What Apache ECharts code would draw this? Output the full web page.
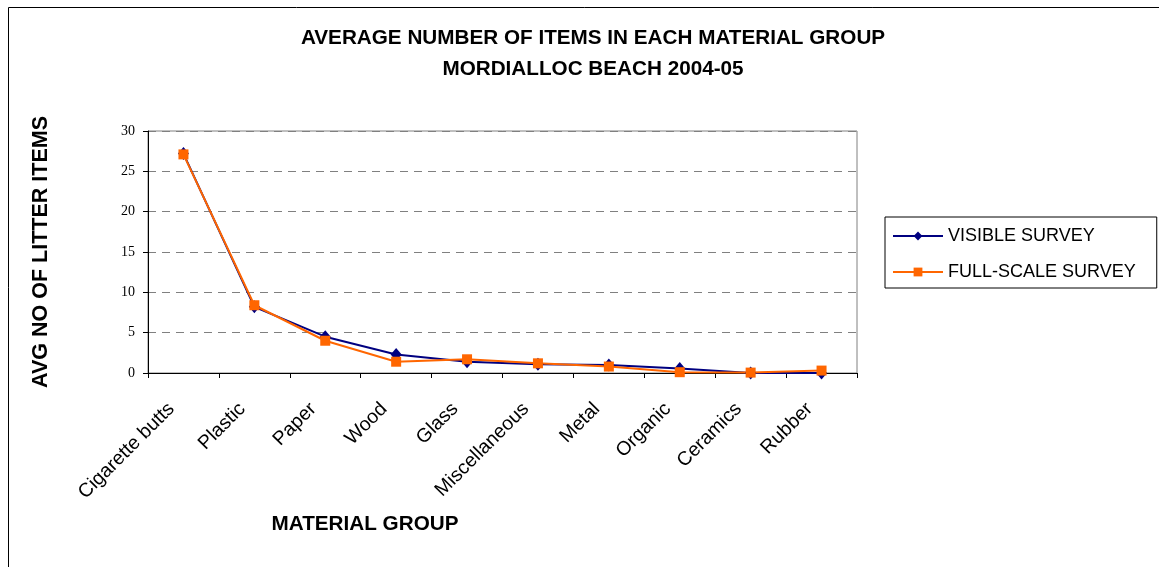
<!DOCTYPE html>
<html><head><meta charset="utf-8">
<script src="https://cdn.jsdelivr.net/npm/echarts@6/dist/echarts.min.js"></script>
<style>html,body{margin:0;padding:0;background:#fff}#c{width:1159px;height:567px}</style>
</head><body><div id="c"></div>
<script>
const categories = ["Cigarette butts","Plastic","Paper","Wood","Glass","Miscellaneous","Metal","Organic","Ceramics","Rubber"];
const visibleSurvey = [27.2, 8.2, 4.5, 2.3, 1.4, 1.1, 1.0, 0.55, 0.0, 0.0];
const fullScaleSurvey = [27.1, 8.4, 4.0, 1.4, 1.7, 1.2, 0.8, 0.1, 0.05, 0.3];
const yTicks = [0, 5, 10, 15, 20, 25, 30];

const chart = echarts.init(document.getElementById('c'), null, {renderer:'canvas'});
chart.setOption({
  animation:false,
  backgroundColor:'#fff',
  graphic:[{type:'rect',shape:{x:8.5,y:7.5,width:1300,height:700},style:{fill:'none',stroke:'#000',lineWidth:1},silent:true}],
  title:{
    text:'AVERAGE NUMBER OF ITEMS IN EACH MATERIAL GROUP\nMORDIALLOC BEACH 2004-05',
    left:588, textAlign:'center', top:18,
    textStyle:{fontFamily:'Liberation Sans, Arial',fontWeight:'bold',fontSize:20.7,lineHeight:31,color:'#000'}
  },
  legend:{
    orient:'vertical', left:885, top:217,
    padding:[10,21,7,7], itemGap:18,
    itemWidth:50, itemHeight:11,
    borderColor:'#000', borderWidth:1,
    textStyle:{fontFamily:'Liberation Sans, Arial',fontSize:18,color:'#000'},
    data:['VISIBLE SURVEY','FULL-SCALE SURVEY']
  },
  grid:{left:148,right:302,top:131,bottom:194,show:true,borderColor:'#808080',borderWidth:1},
  xAxis:{
    type:'category', data:categories, boundaryGap:true,
    name:'MATERIAL GROUP', nameLocation:'middle', nameGap:141,
    nameTextStyle:{fontFamily:'Liberation Sans, Arial',fontWeight:'bold',fontSize:20.7,color:'#000',padding:[0,0,0,-275]},
    axisLine:{lineStyle:{color:'#000',width:1}},
    axisTick:{show:true,alignWithLabel:false,length:5,lineStyle:{color:'#000'}},
    axisLabel:{rotate:45,interval:0,margin:21,padding:[0,17,0,0],fontFamily:'Liberation Sans, Arial',fontSize:19.5,color:'#000'},
    splitLine:{show:false}
  },
  yAxis:{
    type:'value', min:0, max:30, interval:5,
    name:'AVG NO OF LITTER ITEMS', nameLocation:'middle', nameGap:96, nameRotate:90,
    nameTextStyle:{fontFamily:'Liberation Sans, Arial',fontWeight:'bold',fontSize:21.5,color:'#000'},
    axisLine:{show:true,lineStyle:{color:'#000',width:1}},
    axisTick:{show:true,length:5,lineStyle:{color:'#000'}},
    axisLabel:{margin:13,fontFamily:'Liberation Serif, Times New Roman',fontSize:14,color:'#000',
      formatter:v=>yTicks.includes(v)?String(v):''},
    splitLine:{show:true,lineStyle:{color:'#808080',type:[8,6],width:1}}
  },
  series:[
    {name:'VISIBLE SURVEY',type:'line',data:visibleSurvey,symbol:'diamond',symbolSize:[11,13],
      itemStyle:{color:'#000080'},lineStyle:{color:'#000080',width:2}},
    {name:'FULL-SCALE SURVEY',type:'line',data:fullScaleSurvey,symbol:'rect',symbolSize:10,
      itemStyle:{color:'#FF6600'},lineStyle:{color:'#FF6600',width:2}}
  ]
});
</script></body></html>
